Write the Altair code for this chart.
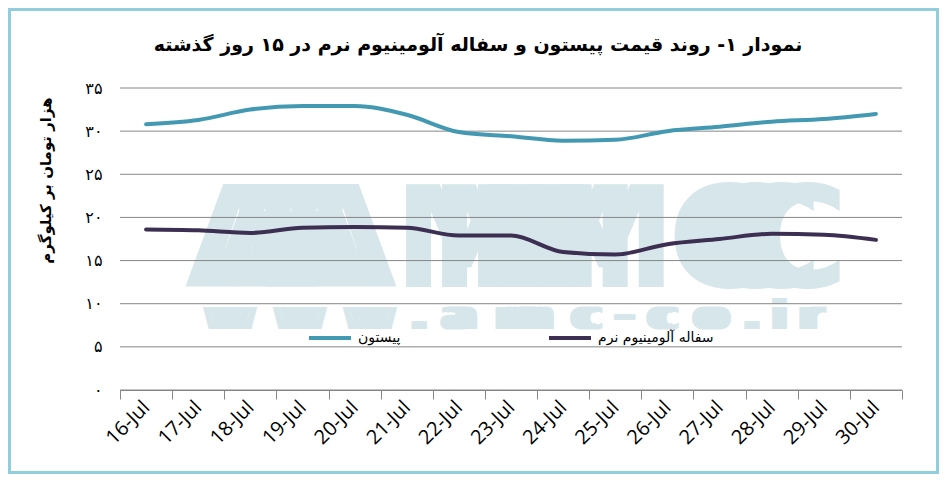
import math
import altair as alt
import pandas as pd

dates = ["16-Jul", "17-Jul", "18-Jul", "19-Jul", "20-Jul", "21-Jul", "22-Jul", "23-Jul",
         "24-Jul", "25-Jul", "26-Jul", "27-Jul", "28-Jul", "29-Jul", "30-Jul"]
piston = [30.8, 31.3, 32.5, 32.9, 32.9, 31.9, 29.9, 29.4, 28.9, 29.0, 30.0, 30.5, 31.1, 31.4, 32.0]
aluminium = [18.6, 18.5, 18.2, 18.8, 18.9, 18.8, 17.9, 17.9, 16.0, 15.7, 16.9, 17.5, 18.1, 18.0, 17.4]
series_names = ["پیستون", "سفاله آلومینیوم نرم"]
series_colors = ["#4399b1", "#3d2f52"]
y_ticks = [0, 5, 10, 15, 20, 25, 30, 35]

title_text = "نمودار ۱- روند قیمت پیستون و سفاله آلومینیوم نرم در ۱۵ روز گذشته"
y_title = "هزار تومان بر کیلوگرم"
logo_text = "AMC"
url_text = "www.amc-co.ir"

rows = []
for d, p, a in zip(dates, piston, aluminium):
    rows.append({"date": d, "series": series_names[0], "value": p})
    rows.append({"date": d, "series": series_names[1], "value": a})
df = pd.DataFrame(rows)
grid_df = pd.DataFrame({"tick": y_ticks})
one = pd.DataFrame({"k": [0]})

persian = ("replace(replace(replace(replace(replace(replace(datum.label,"
           "'0','۰'),'1','۱'),'2','۲'),'3','۳'),'5','۵'),'4','۴')")

# ---- watermark (decoration: horizontally stretched lettering built from fused copies) ----
wm_color = "#d6e6eb"
logo_rows = []
for ch, cx, offs in zip(logo_text, [171, 415, 638],
                        [[-52, -26, 0, 26, 52], [-72, -36, 0, 36, 72], [-39, -13, 13, 39]]):
    for o in offs:
        logo_rows.append({"ch": ch, "px": cx + o})
logo_df = pd.DataFrame(logo_rows)

adv = {"w": 0.92, ".": 0.38, "a": 0.675, "m": 1.04, "c": 0.59, "-": 0.415,
       "o": 0.687, "i": 0.343, "r": 0.493}
url_size = 40
total = sum(adv[c] for c in url_text)
left, right = 195 - 120, 830 - 120
stretch = (right - left) / (total * url_size)
url_rows = []
acc = 0.0
for ch in url_text:
    cx = left + (acc + adv[ch] / 2) * url_size * stretch
    acc += adv[ch]
    extra = adv[ch] * url_size * 0.55
    n = int(math.ceil(extra / 7.0)) + 1
    for j in range(n):
        url_rows.append({"ch": ch, "px": cx - extra / 2 + extra * j / (n - 1)})
url_df = pd.DataFrame(url_rows)

logo = alt.Chart(logo_df).mark_text(font="DejaVu Sans", fontWeight="bold", fontSize=140,
                                    color=wm_color, align="center", baseline="alphabetic").encode(
    x=alt.X("px:Q", scale=None, axis=None), y=alt.value(199), text="ch:N")
url = alt.Chart(url_df).mark_text(font="DejaVu Sans", fontWeight="bold", fontSize=url_size,
                                  color=wm_color, align="center", baseline="alphabetic").encode(
    x=alt.X("px:Q", scale=None, axis=None), y=alt.value(241), text="ch:N")

# ---- chart ----
y_scale = alt.Scale(domain=[0, 35], nice=False, zero=True)

grid = alt.Chart(grid_df).mark_rule(color="#868686", strokeWidth=1).encode(
    y=alt.Y("tick:Q", scale=y_scale,
            axis=alt.Axis(values=y_ticks, grid=False, domain=False, ticks=False, labelPadding=18,
                          labelExpr=persian, labelFont="DejaVu Sans", labelFontSize=16,
                          labelColor="#000000", title=y_title, titleFont="DejaVu Sans",
                          titleFontSize=15, titleFontWeight="bold", titleColor="#000000",
                          titleAngle=270, titleX=-75, titleY=92, titleAlign="center",
                          titleBaseline="middle"))
)

x_enc = alt.X("date:N", sort=dates,
              scale=alt.Scale(type="band", domain=dates, paddingInner=0, paddingOuter=0),
              axis=alt.Axis(title=None, grid=False, domainColor="#868686", tickColor="#868686",
                            tickSize=9, tickBand="extent", labelAngle=315, labelAlign="right",
                            labelBaseline="middle", labelPadding=5, labelFont="Open Sans",
                            labelFontSize=20, labelColor="#000000"))

lines = alt.Chart(df).mark_line(strokeWidth=4, interpolate="monotone", strokeCap="round").encode(
    x=x_enc,
    y=alt.Y("value:Q", scale=y_scale),
    color=alt.Color("series:N", scale=alt.Scale(domain=series_names, range=series_colors),
                    legend=alt.Legend(title=None, orient="none", legendX=187, legendY=227,
                                      direction="horizontal", symbolType="stroke",
                                      symbolSize=1764, symbolStrokeWidth=4, columnPadding=140,
                                      labelFont="DejaVu Sans", labelFontSize=14,
                                      labelColor="#000000", labelOffset=5, labelLimit=400)),
    order=alt.Order("date:N")
)

title = alt.Chart(one).mark_text(font="DejaVu Sans", fontWeight="bold", fontSize=19,
                                 color="#000000", align="center", baseline="middle").encode(
    x=alt.value(358), y=alt.value(-43), text=alt.value(title_text))

border = alt.Chart(one).mark_rect(fill="transparent", stroke="#92cddc", strokeWidth=3).encode(
    x=alt.value(-110.5), x2=alt.value(817.5), y=alt.value(-78.5), y2=alt.value(384.5))

chart = alt.layer(logo, url, grid, lines, title, border).properties(
    width=782, height=302,
    padding={"left": 112, "top": 80, "right": 37, "bottom": 84},
    autosize=alt.AutoSizeParams(type="none")
).configure_view(stroke=None)

chart.save("out.html", embed_options={"renderer": "svg", "actions": False})
